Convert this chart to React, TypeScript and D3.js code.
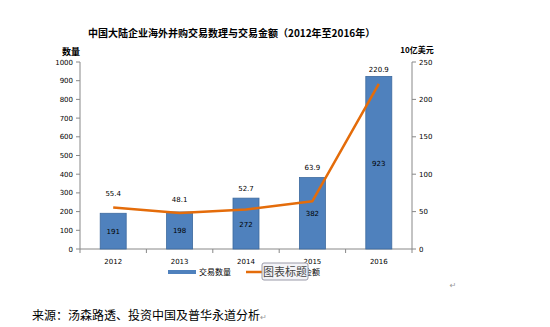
import React from "react";
import * as d3 from "d3";

const years = ["2012", "2013", "2014", "2015", "2016"];
const dealCounts = [191, 198, 272, 382, 923];
const dealValues = [55.4, 48.1, 52.7, 63.9, 220.9];
const leftTicks = [0, 100, 200, 300, 400, 500, 600, 700, 800, 900, 1000];
const rightTicks = [0, 50, 100, 150, 200, 250];

const W = 550;
const H = 327;
const plotLeft = 80;
const plotRight = 412;
const plotTop = 62;
const plotBottom = 249;

export default function App() {
  const x = d3.scaleBand<string>().domain(years).range([plotLeft, plotRight]);
  const yL = d3.scaleLinear().domain([0, 1000]).range([plotBottom, plotTop]);
  const yR = d3.scaleLinear().domain([0, 250]).range([plotBottom, plotTop]);
  const barW = 26;
  const cx = (d: string) => (x(d) as number) + x.bandwidth() / 2;
  const line = d3
    .line<number>()
    .x((_, i) => cx(years[i]))
    .y((v) => yR(v));
  const font = "'DejaVu Sans', sans-serif";
  const cjk = "'Noto Sans CJK SC', sans-serif";
  const boundaries = d3.range(years.length + 1).map((i) => plotLeft + i * x.bandwidth());

  const labelY = (i: number) => {
    const p = yR(dealValues[i]) - 14;
    const barTop = yL(dealCounts[i]);
    return p + 4 > barTop ? barTop - 10 : p;
  };

  return (
    <svg width={W} height={H} style={{ position: "absolute", left: 0, top: 0, background: "#fff" }}>
      <text x={88} y={37} fontFamily={cjk} fontWeight="bold" fontSize={10} fill="#000">
        中国大陆企业海外并购交易数理与交易金额（2012年至2016年）
      </text>
      <text x={71} y={55} fontFamily={cjk} fontWeight="bold" fontSize={9} textAnchor="middle" fill="#000">
        数量
      </text>
      <text x={417} y={53} fontFamily={cjk} fontWeight="bold" fontSize={8} textAnchor="middle" fill="#000">
        10亿美元
      </text>

      {/* left axis */}
      <line x1={plotLeft} x2={plotLeft} y1={plotTop} y2={plotBottom} stroke="#888" />
      {leftTicks.map((t) => (
        <g key={"l" + t}>
          <line x1={plotLeft - 4} x2={plotLeft} y1={yL(t)} y2={yL(t)} stroke="#888" />
          <text x={73} y={yL(t) + 2.5} fontFamily={font} fontSize={7} textAnchor="end" fill="#000">
            {t}
          </text>
        </g>
      ))}
      {/* right axis */}
      <line x1={plotRight} x2={plotRight} y1={plotTop} y2={plotBottom} stroke="#888" />
      {rightTicks.map((t) => (
        <g key={"r" + t}>
          <line x1={plotRight} x2={plotRight + 4} y1={yR(t)} y2={yR(t)} stroke="#888" />
          <text x={419} y={yR(t) + 2.5} fontFamily={font} fontSize={7} textAnchor="start" fill="#000">
            {t}
          </text>
        </g>
      ))}
      {/* bottom axis */}
      <line x1={plotLeft} x2={plotRight} y1={plotBottom} y2={plotBottom} stroke="#888" />
      {boundaries.map((b, i) => (
        <line key={"b" + i} x1={b} x2={b} y1={plotBottom} y2={plotBottom + 4} stroke="#888" />
      ))}
      {years.map((y) => (
        <text key={"y" + y} x={cx(y)} y={264} fontFamily={font} fontSize={7} textAnchor="middle" fill="#000">
          {y}
        </text>
      ))}

      {/* bars */}
      {dealCounts.map((v, i) => (
        <g key={"bar" + i}>
          <rect
            x={cx(years[i]) - barW / 2}
            y={yL(v)}
            width={barW}
            height={plotBottom - yL(v)}
            fill="#4F81BD"
            stroke="#3C6A9E"
            strokeWidth={0.8}
          />
          <text
            x={cx(years[i])}
            y={(yL(v) + plotBottom) / 2 + 3}
            fontFamily={font}
            fontSize={7}
            textAnchor="middle"
            fill="#000"
          >
            {v}
          </text>
        </g>
      ))}

      {/* line */}
      <path d={line(dealValues) || ""} fill="none" stroke="#E46C0A" strokeWidth={2.5} strokeLinejoin="round" />
      {dealValues.map((v, i) => (
        <text
          key={"lv" + i}
          x={cx(years[i])}
          y={labelY(i) + 2.5}
          fontFamily={font}
          fontSize={7}
          textAnchor="middle"
          fill="#000"
        >
          {v.toFixed(1)}
        </text>
      ))}

      {/* legend */}
      <rect x={168} y={270} width={28} height={4} fill="#4F81BD" />
      <text x={199} y={275} fontFamily={cjk} fontSize={8} fill="#000">
        交易数量
      </text>
      <line x1={246} x2={268} y1={272} y2={272} stroke="#E46C0A" strokeWidth={2.5} />
      <text x={288} y={275} fontFamily={cjk} fontSize={8} fill="#000">
        交易金额
      </text>
      {/* tooltip */}
      <rect x={262} y={263} width={46} height={17} rx={2} fill="#F4F4F8" stroke="#9A9AA8" strokeWidth={1} />
      <text x={285} y={275.5} fontFamily={cjk} fontSize={11} textAnchor="middle" fill="#444">
        图表标题
      </text>

      <text x={453} y={288} fontFamily={font} fontSize={8} fill="#999" textAnchor="middle">
        ↵
      </text>

      {/* source */}
      <text x={32} y={320} fontFamily={cjk} fontSize={12} fill="#000">
        来源：汤森路透、投资中国及普华永道分析
        <tspan fontSize={8} fill="#999">↵</tspan>
      </text>
    </svg>
  );
}
